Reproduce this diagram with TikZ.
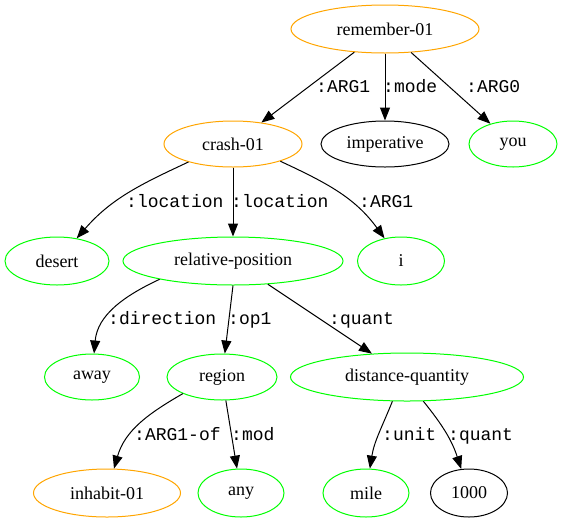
\documentclass[tikz,border=0pt]{standalone}
\usepackage{fontspec}
\setmainfont{Liberation Serif}
\setmonofont{Liberation Mono}
\usetikzlibrary{shapes.geometric,arrows.meta}
\definecolor{amrorange}{RGB}{255,165,0}
\definecolor{amrgreen}{RGB}{0,255,0}
\begin{document}
\begin{tikzpicture}[x=1pt,y=1pt,
  concept/.style={ellipse, draw, line width=1pt, inner sep=0pt,
    font=\fontsize{18}{20}\selectfont},
  sz/.style 2 args={minimum width=#1pt, minimum height=#2pt},
  pred/.style={concept, draw=amrorange},
  ent/.style={concept, draw=amrgreen},
  const/.style={concept, draw=black},
  rel/.style={-{Triangle[length=13pt,width=10pt]}, line width=1pt},
  role/.style={anchor=base west, inner sep=0pt,
    font=\ttfamily\fontsize{18}{20}\selectfont}]
\useasboundingbox (0,0) rectangle (562,-523);

% concepts
\node[pred, sz={188}{48}]  (remember)  at (385,-29)  {remember-01};
\node[pred, sz={138}{46}]  (crash)     at (233,-144) {crash-01};
\node[const, sz={128}{46}] (imperative) at (385,-144) {imperative};
\node[ent, sz={88}{46}]    (you)       at (513,-144) {you};
\node[ent, sz={104}{48}]   (desert)    at (57,-261)  {desert};
\node[ent, sz={220}{48}]   (relpos)    at (233,-261) {relative-position};
\node[ent, sz={87}{48}]    (i)         at (401,-261) {i};
\node[ent, sz={95}{46}]    (away)      at (92,-377)  {away};
\node[ent, sz={110}{46}]   (region)    at (222,-377) {region};
\node[ent, sz={233}{48}]   (distq)     at (407,-377) {distance-quantity};
\node[pred, sz={147}{48}]  (inhabit)   at (107,-493) {inhabit-01};
\node[ent, sz={86}{48}]    (any)       at (241,-493) {any};
\node[ent, sz={86}{48}]    (mile)      at (366,-493) {mile};
\node[const, sz={77}{48}]  (n1000)     at (469,-493) {1000};

% relations
\draw[rel] (remember) -- (crash);
\draw[rel] (remember) -- (imperative);
\draw[rel] (remember) -- (you);
\draw[rel] (crash.-158) to[out=-155, in=49] (desert);
\draw[rel] (crash) -- (relpos);
\draw[rel] (crash.-20) to[out=-25, in=126] (i);
\draw[rel] (relpos.-166) to[out=-155, in=85] (away);
\draw[rel] (relpos.south) -- (region);
\draw[rel] (relpos) -- (distq);
\draw[rel] (region.-157) to[out=-150, in=74] (inhabit);
\draw[rel] (region) -- (any);
\draw[rel] (distq.-121) to[out=-112, in=81] (mile);
\draw[rel] (distq.-56) to[out=-51, in=108] (n1000);

% role labels
\node[role] (l1)  at (316,-92)  {:ARG1};
\node[role] (l2)  at (383,-92)  {:mode};
\node[role] (l3)  at (466,-92)  {:ARG0};
\node[role] (l4)  at (126,-207) {:location};
\node[role] (l5)  at (231,-207) {:location};
\node[role] (l6)  at (359,-207) {:ARG1};
\node[role] (l7)  at (108,-324) {:direction};
\node[role] (l8)  at (228,-324) {:op1};
\node[role] (l9)  at (329,-324) {:quant};
\node[role] (l10) at (134,-440) {:ARG1-of};
\node[role] (l11) at (231,-440) {:mod};
\node[role] (l12) at (382,-440) {:unit};
\node[role] (l13) at (448,-440) {:quant};
\end{tikzpicture}
\end{document}
